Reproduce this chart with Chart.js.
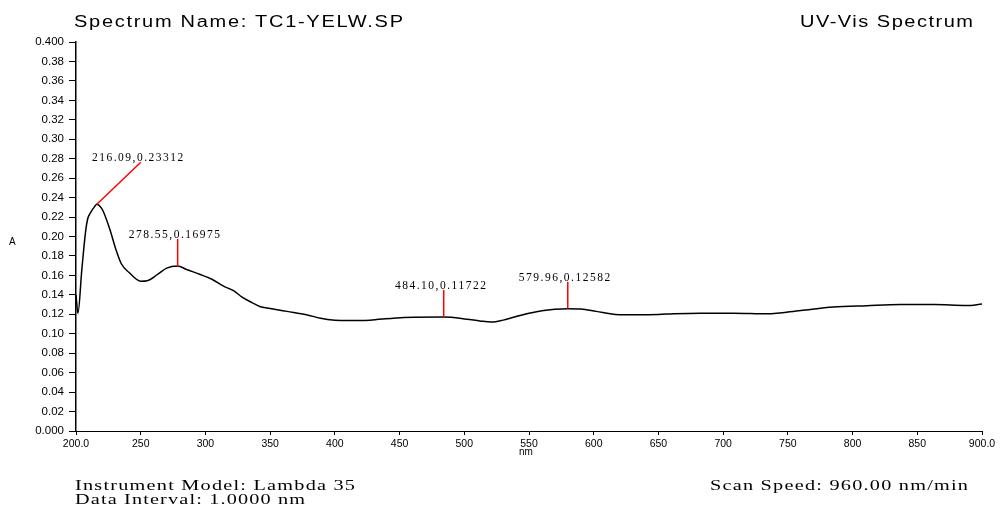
<!DOCTYPE html>
<html>
<head>
<meta charset="utf-8">
<script src="https://cdn.jsdelivr.net/npm/chart.js@4.4.0/dist/chart.umd.min.js"></script>
<style>
body { margin: 0; background: #fff; }
#wrap { position: relative; width: 1001px; height: 509px; overflow: hidden; }
canvas { position: absolute; left: 0; top: 0; }
.txt { position: absolute; white-space: nowrap; color: #000; line-height: 1; transform-origin: 0 0; }
.sans { font-family: "Liberation Sans", Arial, sans-serif; }
.serif { font-family: "Liberation Serif", "Times New Roman", serif; }
</style>
</head>
<body>
<div id="wrap">
    <canvas id="grafico" width="1001" height="509"></canvas>
    <div class="txt sans" data-w="329" data-s="1.25" style="left:74px; top:14px; font-size:16px;">Spectrum Name: TC1-YELW.SP</div>
    <div class="txt sans" data-w="173" data-s="1.25" style="left:800px; top:14px; font-size:16px;">UV-Vis Spectrum</div>
    <div class="txt sans" style="left:9px; top:237px; font-size:10px;">A</div>
    <div class="txt sans" style="left:519px; top:447px; font-size:10px;">nm</div>
    <div class="txt serif" data-w="280" data-s="1.35" style="left:75px; top:478px; font-size:15px;">Instrument Model: Lambda 35</div>
    <div class="txt serif" data-w="230" data-s="1.35" style="left:75px; top:492px; font-size:15px;">Data Interval: 1.0000 nm</div>
    <div class="txt serif" data-w="258" data-s="1.35" style="left:710px; top:478px; font-size:15px;">Scan Speed: 960.00 nm/min</div>
</div>
<script>
// spettro
const lunghezzeOnda = [200, 201.5, 204.5, 207.5, 209, 211, 214.5, 216.09, 218.5, 221, 226, 231, 235, 241, 250, 255,
    263, 270, 278.55, 285.5, 296, 305, 314, 322, 328, 336, 342, 350, 363, 378, 389, 400, 410, 427, 445, 461,
    484.1, 502, 512, 521, 530, 538, 550, 560, 570, 579.96, 590, 602, 617, 633, 650, 662, 682, 708, 734, 760,
    785, 811, 837, 863, 888, 900];
const assorbanza = [0.140, 0.121, 0.166, 0.206, 0.218, 0.224, 0.231, 0.23312, 0.231, 0.226, 0.208, 0.186, 0.172, 0.163, 0.154, 0.1545,
    0.161, 0.1675, 0.16975, 0.166, 0.161, 0.156, 0.149, 0.144, 0.138, 0.132, 0.128, 0.126, 0.123, 0.1196, 0.116, 0.114, 0.1135, 0.114, 0.116, 0.117,
    0.11722, 0.115, 0.1132, 0.112, 0.114, 0.117, 0.121, 0.1237, 0.1252, 0.12582, 0.1255, 0.123, 0.1198, 0.1195, 0.1198, 0.1206, 0.1212, 0.1212, 0.1205, 0.124,
    0.1275, 0.1289, 0.130, 0.130, 0.129, 0.1305];

// picchi marcati in rosso
const piccoX = [216.09, 278.55, 484.10, 579.96];
const piccoY = [0.23312, 0.16975, 0.11722, 0.12582];

// assi
const xMin = 200, xMax = 900, xPasso = 50;
const yMin = 0, yMax = 0.4, yPasso = 0.02;

// allarga il testo fino alla larghezza del riferimento
document.querySelectorAll('[data-w]').forEach(el => {
    const s = +el.dataset.s;
    const w = el.getBoundingClientRect().width;
    const n = el.textContent.length - 1;
    el.style.letterSpacing = ((+el.dataset.w / s - w) / n) + 'px';
    el.style.transform = 'scaleX(' + s + ')';
});

const etichettePicchi = {
    id: 'etichettePicchi',
    afterDatasetsDraw(chart) {
        const ctx = chart.ctx;
        const sx = chart.scales.x;
        const sy = chart.scales.y;
        ctx.save();
        ctx.strokeStyle = '#ff0000';
        ctx.lineWidth = 1.5;
        ctx.fillStyle = '#000';
        ctx.font = '11.5px "Liberation Serif", "Times New Roman", serif';
        ctx.letterSpacing = '1.5px';
        ctx.textAlign = 'center';
        ctx.textBaseline = 'alphabetic';
        piccoX.forEach((px, i) => {
            const x1 = sx.getPixelForValue(px);
            const y1 = sy.getPixelForValue(piccoY[i]);
            let x2 = x1, y2 = y1 - 27;
            if (i === 0) { x2 = x1 + 44; y2 = y1 - 42; }
            ctx.beginPath();
            ctx.moveTo(x1, y1);
            ctx.lineTo(x2, y2);
            ctx.stroke();
            ctx.fillText(px.toFixed(2) + ',' + piccoY[i].toFixed(5), x2 - 2.5, y2 - 1);
        });
        ctx.restore();
    }
};

const punti = lunghezzeOnda.map((x, i) => ({ x: x, y: assorbanza[i] }));

new Chart(document.getElementById('grafico').getContext('2d'), {
    type: 'scatter',
    data: {
        datasets: [{
            data: punti,
            showLine: true,
            borderColor: '#000',
            borderWidth: 1.5,
            pointRadius: 0,
            cubicInterpolationMode: 'monotone'
        }]
    },
    options: {
        responsive: false,
        animation: false,
        events: [],
        layout: { padding: { left: 0, right: 19, top: 42, bottom: 0 } },
        plugins: { legend: { display: false }, tooltip: { enabled: false } },
        scales: {
            x: {
                type: 'linear',
                min: xMin,
                max: xMax,
                afterFit: s => { s.height = 78; },
                border: { color: '#000', width: 1 },
                grid: { drawOnChartArea: false, tickLength: 4, color: '#000' },
                ticks: {
                    stepSize: xPasso,
                    autoSkip: false,
                    maxRotation: 0,
                    padding: 3,
                    color: '#000',
                    font: { family: '"Liberation Sans", Arial, sans-serif', size: 10.5 },
                    callback: v => (v === xMin || v === xMax) ? v.toFixed(1) : v
                }
            },
            y: {
                min: yMin,
                max: yMax,
                afterFit: s => { s.width = 76; },
                border: { color: '#000', width: 1.5 },
                grid: { drawOnChartArea: false, tickLength: 7, color: '#000' },
                ticks: {
                    stepSize: yPasso,
                    autoSkip: false,
                    padding: 5,
                    color: '#000',
                    font: { family: '"Liberation Sans", Arial, sans-serif', size: 11.5 },
                    callback: v => (Math.abs(v - yMin) < 1e-9 || Math.abs(v - yMax) < 1e-9) ? v.toFixed(3) : v.toFixed(2)
                }
            }
        }
    },
    plugins: [etichettePicchi]
});
</script>
</body>
</html>
